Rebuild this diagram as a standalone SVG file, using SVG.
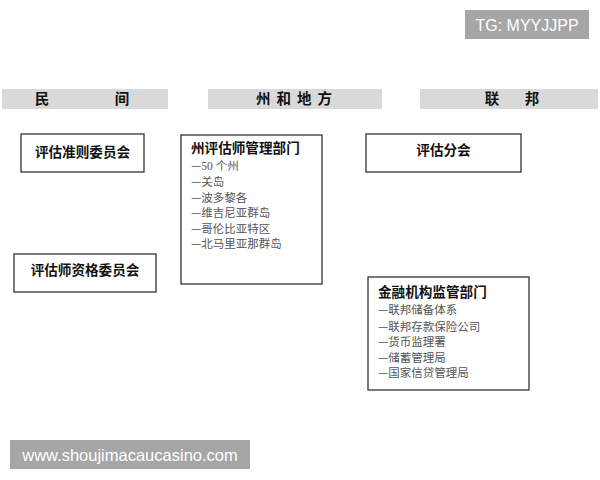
<svg xmlns="http://www.w3.org/2000/svg" width="600" height="480" viewBox="0 0 600 480">
<style>
.hdr{fill:#d9d9d9}
.ht{font-family:"Noto Sans CJK SC","Noto Sans",sans-serif;font-weight:bold;font-size:14.5px;fill:#111;text-anchor:middle}
.box{fill:#fff;stroke:#333;stroke-width:1.3}
.tt{font-family:"Noto Sans CJK SC","Noto Sans",sans-serif;font-weight:bold;font-size:13.6px;fill:#111}
.li{font-family:"Noto Sans CJK SC",serif;font-size:11.5px;fill:#555}
.num{font-family:"Liberation Serif",serif}
.wm{fill:#a6a6a6}
.wt{font-family:"Liberation Sans",Arial,sans-serif;fill:#fff}
</style>
<rect width="600" height="480" fill="#fff"/>
<g id="headers">
<rect class="hdr" x="2" y="89" width="166" height="20"/>
<text class="ht" x="42" y="104">民</text>
<text class="ht" x="122" y="104">间</text>
<rect class="hdr" x="208" y="89" width="174" height="20"/>
<text class="ht" x="297" y="104" letter-spacing="6">州和地方</text>
<rect class="hdr" x="420" y="89" width="178" height="20"/>
<text class="ht" x="492" y="104">联</text>
<text class="ht" x="532" y="104">邦</text>
</g>
<g id="connectors"></g>
<g id="n1">
<rect class="box" x="21" y="134" width="123" height="38"/>
<text class="tt" x="82.500" y="157" text-anchor="middle">评估准则委员会</text>
</g>
<g id="n2">
<rect class="box" x="14" y="254" width="142" height="38"/>
<text class="tt" x="85" y="275" text-anchor="middle">评估师资格委员会</text>
</g>
<g id="n3">
<rect class="box" x="181" y="135" width="141" height="149"/>
<text class="tt" x="191" y="153">州评估师管理部门</text>
<text class="li" x="191" y="170">—<tspan class="num">50 </tspan>个州</text>
<text class="li" x="191" y="186">—关岛</text>
<text class="li" x="191" y="201.500">—波多黎各</text>
<text class="li" x="191" y="217">—维吉尼亚群岛</text>
<text class="li" x="191" y="232.500">—哥伦比亚特区</text>
<text class="li" x="191" y="248">—北马里亚那群岛</text>
</g>
<g id="n4">
<rect class="box" x="366" y="134" width="155" height="38"/>
<text class="tt" x="443.500" y="155" text-anchor="middle">评估分会</text>
</g>
<g id="n5">
<rect class="box" x="368" y="277" width="161" height="113"/>
<text class="tt" x="378" y="297">金融机构监管部门</text>
<text class="li" x="378" y="314">—联邦储备体系</text>
<text class="li" x="378" y="330.500">—联邦存款保险公司</text>
<text class="li" x="378" y="346">—货币监理署</text>
<text class="li" x="378" y="361.500">—储蓄管理局</text>
<text class="li" x="378" y="377">—国家信贷管理局</text>
</g>
<g id="watermarks">
<rect class="wm" x="465" y="10" width="124" height="29"/>
<text class="wt" x="527" y="30.500" text-anchor="middle" font-size="16">TG: MYYJJPP</text>
<rect class="wm" x="10" y="440" width="240" height="29"/>
<text class="wt" x="130" y="460.500" text-anchor="middle" font-size="16.5">www.shoujimacaucasino.com</text>
</g>
</svg>
